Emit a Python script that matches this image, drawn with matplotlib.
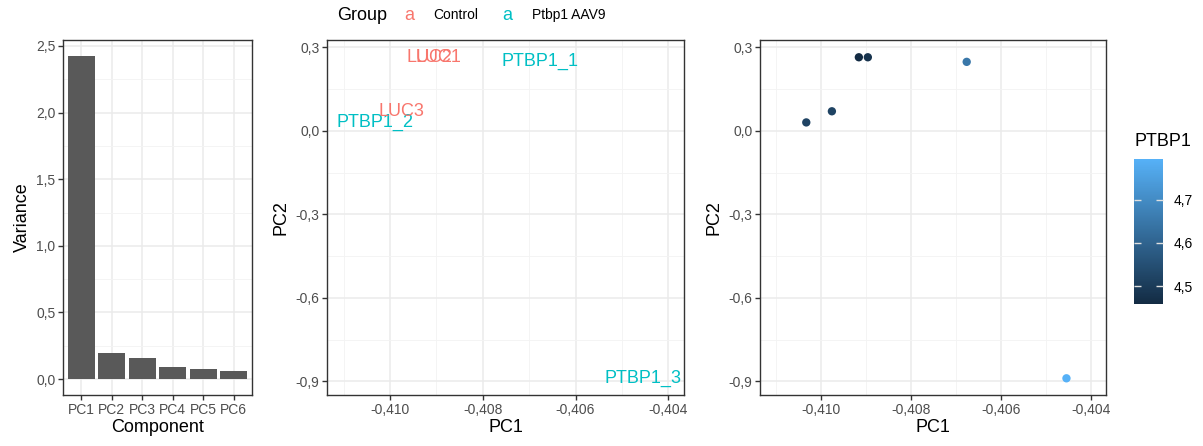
import matplotlib
matplotlib.use("Agg")
import matplotlib.pyplot as plt
import numpy as np
from matplotlib.colors import LinearSegmentedColormap, Normalize
from matplotlib.cm import ScalarMappable
from matplotlib.ticker import FuncFormatter, FixedLocator

plt.rcParams['font.family'] = ['Liberation Sans', 'DejaVu Sans']

# scree data
components = ["PC1", "PC2", "PC3", "PC4", "PC5", "PC6"]
variance = [2.425, 0.197, 0.155, 0.088, 0.073, 0.062]

# sample scores
samples = ["PTBP1_2", "LUC3", "LUC2", "LUC1", "PTBP1_1", "PTBP1_3"]
groups = ["Ptbp1 AAV9", "Control", "Control", "Control", "Ptbp1 AAV9", "Ptbp1 AAV9"]
pc1 = [-0.41033, -0.40976, -0.40916, -0.40896, -0.40676, -0.40454]
pc2 = [0.030, 0.070, 0.264, 0.264, 0.2475, -0.889]
ptbp1 = [4.52, 4.52, 4.459, 4.48, 4.65, 4.794]

group_colors = {"Control": "#F8766D", "Ptbp1 AAV9": "#00BFC4"}

W, H = 1203, 446
fig = plt.figure(figsize=(W / 100, H / 100), dpi=100)


def add_ax(l, r, t, b):
    return fig.add_axes([l / W, 1 - b / H, (r - l) / W, (b - t) / H])


def comma(fmt):
    return FuncFormatter(lambda v, p: (fmt % v).replace(".", ","))


def style(ax, xmaj, xmin, ymaj, ymin):
    ax.set_facecolor("white")
    ax.xaxis.set_major_locator(FixedLocator(xmaj))
    ax.xaxis.set_minor_locator(FixedLocator(xmin))
    ax.yaxis.set_major_locator(FixedLocator(ymaj))
    ax.yaxis.set_minor_locator(FixedLocator(ymin))
    ax.grid(True, which="major", color="#EBEBEB", lw=1.1, zorder=0)
    ax.grid(True, which="minor", color="#F3F3F3", lw=0.6, zorder=0)
    ax.set_axisbelow(True)
    for s in ax.spines.values():
        s.set_color("#333333")
        s.set_linewidth(1.0)
    ax.tick_params(which="major", length=3.5, width=1.0, color="#333333",
                   labelsize=10, labelcolor="#4D4D4D", pad=2)
    ax.tick_params(which="minor", length=0)


# scree plot
ax1 = add_ax(63, 252, 40, 395)
xpos = np.arange(1, len(components) + 1)
ax1.bar(xpos, variance, width=0.9, color="#595959", zorder=2)
ax1.set_xlim(0.4, 6.6)
ax1.set_ylim(-0.12, 2.545)
style(ax1, xpos, [], [0, 0.5, 1.0, 1.5, 2.0, 2.5], [0.25, 0.75, 1.25, 1.75, 2.25])
ax1.set_xticklabels(components)
ax1.yaxis.set_major_formatter(comma("%.1f"))
ax1.set_xlabel("Component", fontsize=13, labelpad=2)
ax1.set_ylabel("Variance", fontsize=13, labelpad=4)

xlim = (-0.41136, -0.40366)
ylim = (-0.949, 0.326)
xmaj = [-0.410, -0.408, -0.406, -0.404]
xmin = [-0.411, -0.409, -0.407, -0.405]
ymaj = [-0.9, -0.6, -0.3, 0.0, 0.3]
ymin = [-0.75, -0.45, -0.15, 0.15]

# labelled PCA
ax2 = add_ax(327, 684, 40, 395)
for name, g, x, y in zip(samples, groups, pc1, pc2):
    ax2.text(x, y, name, color=group_colors[g], fontsize=13,
             ha="center", va="center", zorder=3)
ax2.set_xlim(*xlim)
ax2.set_ylim(*ylim)
style(ax2, xmaj, xmin, ymaj, ymin)
ax2.xaxis.set_major_formatter(comma("%.3f"))
ax2.yaxis.set_major_formatter(comma("%.1f"))
ax2.set_xlabel("PC1", fontsize=13, labelpad=2)
ax2.set_ylabel("PC2", fontsize=13, labelpad=4)

# top legend
fig.text(337 / W, 1 - 15 / H, "Group", fontsize=13, va="center", ha="left")
fig.text(409 / W, 1 - 15 / H, "a", fontsize=13, color=group_colors["Control"], va="center", ha="center")
fig.text(433 / W, 1 - 15 / H, "Control", fontsize=10, va="center", ha="left")
fig.text(507 / W, 1 - 15 / H, "a", fontsize=13, color=group_colors["Ptbp1 AAV9"], va="center", ha="center")
fig.text(532 / W, 1 - 15 / H, "Ptbp1 AAV9", fontsize=10, va="center", ha="left")

# coloured PCA
cmap = LinearSegmentedColormap.from_list("ggblue", ["#132B43", "#56B1F7"])
norm = Normalize(vmin=min(ptbp1), vmax=max(ptbp1))
ax3 = add_ax(760, 1106, 40, 395)
ax3.scatter(pc1, pc2, c=ptbp1, cmap=cmap, norm=norm, s=36, linewidths=0, zorder=3)
ax3.set_xlim(*xlim)
ax3.set_ylim(*ylim)
style(ax3, xmaj, xmin, ymaj, ymin)
ax3.xaxis.set_major_formatter(comma("%.3f"))
ax3.yaxis.set_major_formatter(comma("%.1f"))
ax3.set_xlabel("PC1", fontsize=13, labelpad=2)
ax3.set_ylabel("PC2", fontsize=13, labelpad=4)

# colour bar
cax = add_ax(1134, 1163, 159, 304)
cb = fig.colorbar(ScalarMappable(norm=norm, cmap=cmap), cax=cax)
cb.outline.set_visible(False)
cb.set_ticks([4.5, 4.6, 4.7])
cb.ax.yaxis.set_major_formatter(comma("%.1f"))
cax.tick_params(which="both", direction="in", left=True, right=True,
                length=5, width=1.0, color="#E0E0E0", labelsize=10,
                labelcolor="black", pad=8)
cax.minorticks_off()
fig.text(1134 / W, 1 - 142 / H, "PTBP1", fontsize=13, va="center", ha="left")

fig.savefig("out.png", dpi=100, facecolor="white")
